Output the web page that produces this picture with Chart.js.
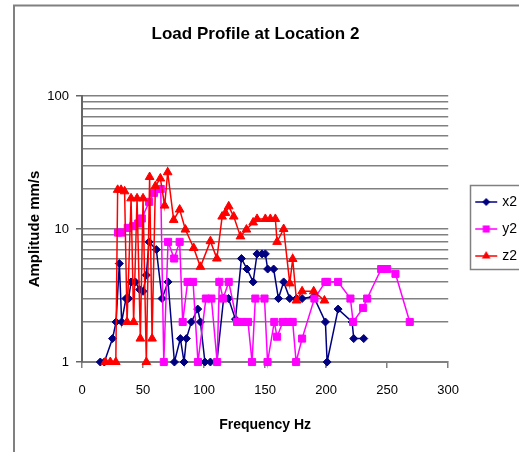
<!DOCTYPE html>
<html><head><meta charset="utf-8">
<script src="https://cdn.jsdelivr.net/npm/chart.js@4/dist/chart.umd.min.js"></script>
<style>html,body{margin:0;padding:0;background:#fff;} canvas{display:block;}</style>
</head><body>
<canvas id="c" width="519" height="452"></canvas>
<script>
const FONT = "'Liberation Sans', Arial, sans-serif";
const chartTitle = 'Load Profile at Location 2';
const xAxisTitle = 'Frequency Hz';
const yAxisTitle = 'Amplitude mm/s';
const seriesNames = ['x2', 'y2', 'z2'];
const seriesColors = ['#000080', '#FF00FF', '#FF0000'];
const xTickValues = [0, 50, 100, 150, 200, 250, 300];
const yTickValues = [1,2,3,4,5,6,7,8,9,10,20,30,40,50,60,70,80,90,100];
const yLabelValues = [1, 10, 100];

const freqX2 = [15, 18.3, 25, 27.9, 30.6, 32.5, 36, 38.2, 40.2, 43.7, 47.2, 50, 52.7, 54.9, 60.9, 65.6, 70.5, 75.7, 80.6, 83.6, 85.5, 89.6, 94.8, 97, 100.7, 105.2, 110.5, 116, 120, 125.7, 130.6, 135.2, 140.2, 143.4, 147.5, 150.2, 152.1, 157, 160.9, 165.2, 170.2, 175.7, 180.3, 189.8, 199.4, 200.8, 209.8, 221.3, 222.6, 230.8];
const ampX2  = [1, 1, 1.5, 2, 5.5, 2, 3, 3, 4, 4, 3.5, 3.4, 4.5, 8, 7, 3, 4, 1, 1.5, 1, 1.5, 2, 2.5, 2, 1, 1, 1, 3, 3, 2.1, 6, 5, 4, 6.5, 6.5, 6.5, 5, 5, 3, 4, 3, 3, 3, 3.1, 2, 1, 2.5, 2, 1.5, 1.5];

const freqY2 = [29.5, 32.5, 37.5, 42, 46, 49, 55, 59, 64.5, 67, 70.5, 75.5, 80, 82.5, 86.5, 91, 95, 101.5, 106, 110.7, 112.5, 115.6, 120.2, 127, 131, 136, 139.3, 142, 149.5, 152, 157.5, 159.8, 164.5, 169, 172.6, 175.4, 180.3, 190.4, 199.4, 200.8, 209.8, 219.9, 222.1, 230.3, 233.6, 245.1, 250, 256.8, 268.5];
const ampY2  = [9.4, 9.4, 10.2, 10.5, 11, 12, 16, 18.7, 20, 1, 8, 6, 8, 2, 4, 4, 1, 3, 3, 1, 4, 3, 4, 2, 2, 2, 1, 3, 3, 1, 2, 1.55, 2, 2, 2, 1, 1.5, 3, 4, 4, 4, 3, 2, 2.55, 3, 5, 5, 4.6, 2];

const freqZ2 = [19.1, 23.2, 27.7, 29.2, 32, 34.9, 36.9, 40.2, 42.3, 45.1, 47.8, 50, 52.7, 55.4, 57.4, 60.1, 64.2, 67.7, 70.2, 75.1, 80, 84.7, 91.5, 97, 105.2, 110.5, 114.8, 117.5, 120.2, 124.3, 129.8, 134.7, 140.2, 143.4, 150.2, 154.3, 158.4, 159.8, 165.2, 170.2, 172.6, 175.7, 180.3, 189.8, 198.6];
const ampZ2  = [1, 1, 1, 19.7, 19.7, 19.2, 2, 17, 2, 17, 1.5, 17, 1, 24.6, 1.5, 21, 24, 15, 26.7, 11.7, 14, 9.9, 7.2, 5.2, 8.1, 6, 12.4, 13.2, 14.8, 12.4, 8.8, 9.9, 11.2, 11.9, 11.9, 11.9, 11.9, 8, 10, 3.9, 5.95, 2.9, 3.4, 3.4, 2.9];

function series(fs, as) { return fs.map((f, i) => ({x: f, y: as[i]})); }

function makeIcon(color, style, r) {
  const c = document.createElement('canvas');
  c.width = 24; c.height = 12;
  const g = c.getContext('2d');
  g.strokeStyle = color; g.fillStyle = color; g.lineWidth = 1.5;
  g.beginPath(); g.moveTo(1, 6); g.lineTo(23, 6); g.stroke();
  g.beginPath();
  if (style === 'rectRot') {
    g.moveTo(12, 6 - r); g.lineTo(12 + r, 6); g.lineTo(12, 6 + r); g.lineTo(12 - r, 6);
  } else if (style === 'rect') {
    const h = r * Math.SQRT1_2; g.rect(12 - h, 6 - h, 2 * h, 2 * h);
  } else {
    g.moveTo(12, 6 - r); g.lineTo(12 + r * 0.866, 6 + r / 2); g.lineTo(12 - r * 0.866, 6 + r / 2);
  }
  g.closePath(); g.fill();
  return c;
}

const styles = ['rectRot', 'rect', 'triangle'];
const radii = [4, 5, 5];
const icons = seriesColors.map((c, i) => makeIcon(c, styles[i], radii[i]));
const dataSets = [series(freqX2, ampX2), series(freqY2, ampY2), series(freqZ2, ampZ2)];

const framePlugin = {
  id: 'frame',
  beforeDraw(chart) {
    const ctx = chart.ctx; ctx.save();
    ctx.fillStyle = '#fff'; ctx.fillRect(0, 0, chart.width, chart.height);
    ctx.strokeStyle = '#808080'; ctx.lineWidth = 2;
    ctx.strokeRect(14, 5.5, 700, 700);
    ctx.restore();
  },
  afterLayout(chart) {
    if (chart.legend) { chart.legend.left += 16; chart.legend.right += 16; }
  },
  afterDraw(chart) {
    const hb = chart.legend && chart.legend.legendHitBoxes;
    if (!hb || hb.length < 3) return;
    const ctx = chart.ctx; ctx.save();
    ctx.strokeStyle = '#808080'; ctx.lineWidth = 1.5;
    const top = Math.round(hb[0].top - 10) + 0.5;
    const bottom = Math.round(hb[2].top + hb[2].height + 6) + 0.5;
    ctx.strokeRect(Math.round(hb[0].left - 7) + 0.5, top, 200, bottom - top);
    ctx.restore();
  }
};

new Chart(document.getElementById('c'), {
  type: 'scatter',
  data: {
    datasets: seriesNames.map((name, i) => ({
      label: name,
      data: dataSets[i],
      showLine: true,
      borderColor: seriesColors[i],
      backgroundColor: seriesColors[i],
      pointBackgroundColor: seriesColors[i],
      pointBorderColor: seriesColors[i],
      pointStyle: styles[i],
      pointRadius: radii[i],
      pointBorderWidth: 1,
      borderWidth: 1.5,
      tension: 0,
      clip: false,
      order: 2 - i
    }))
  },
  options: {
    responsive: false,
    animation: false,
    devicePixelRatio: 1,
    layout: {padding: {left: 0, right: 8, top: 0, bottom: 0}},
    plugins: {
      title: {display: true, text: chartTitle, color: '#000',
        font: {family: FONT, size: 17, weight: 'bold'}, padding: {top: 24, bottom: 51.6}},
      legend: {
        display: true, position: 'right', align: 'center', fullSize: false,
        labels: {
          color: '#000', font: {family: FONT, size: 14}, padding: 13,
          usePointStyle: true, pointStyleWidth: 18,
          sort: (a, b) => a.datasetIndex - b.datasetIndex,
          generateLabels(chart) {
            const items = Chart.defaults.plugins.legend.labels.generateLabels(chart);
            items.forEach(it => { it.pointStyle = icons[it.datasetIndex]; it.fontColor = '#000'; });
            return items;
          }
        }
      },
      tooltip: {enabled: false}
    },
    scales: {
      x: {
        type: 'linear', min: 0, max: 300,
        afterBuildTicks: s => { s.ticks = xTickValues.map(v => ({value: v})); },
        afterFit: s => { s.height = 90; },
        ticks: {color: '#000', font: {family: FONT, size: 13}, padding: 15, autoSkip: false, maxRotation: 0},
        grid: {drawOnChartArea: false, drawTicks: true, tickLength: 6, color: '#808080', tickColor: '#808080', lineWidth: 1.5},
        border: {color: '#808080', width: 2},
        title: {display: true, text: xAxisTitle, color: '#000',
          font: {family: FONT, size: 14, weight: 'bold'}, padding: {top: 4, bottom: 18}}
      },
      y: {
        type: 'logarithmic', min: 1, max: 100,
        afterBuildTicks: s => { s.ticks = yTickValues.map(v => ({value: v, major: yLabelValues.includes(v)})); },
        afterFit: s => { s.width = 82; },
        ticks: {
          color: '#000', font: {family: FONT, size: 13}, padding: 7, autoSkip: false,
          callback: v => yLabelValues.includes(v) ? String(v) : ''
        },
        grid: {
          color: '#808080', lineWidth: 1.5, drawTicks: true, tickLength: 6,
          tickColor: c => (c.tick && yLabelValues.includes(c.tick.value)) ? '#666' : 'rgba(0,0,0,0)'
        },
        border: {color: '#666', width: 2},
        title: {display: true, text: yAxisTitle, color: '#000',
          font: {family: FONT, size: 15, weight: 'bold'}, padding: {top: 26, bottom: 0}}
      }
    }
  },
  plugins: [framePlugin]
});
</script>
</body></html>
